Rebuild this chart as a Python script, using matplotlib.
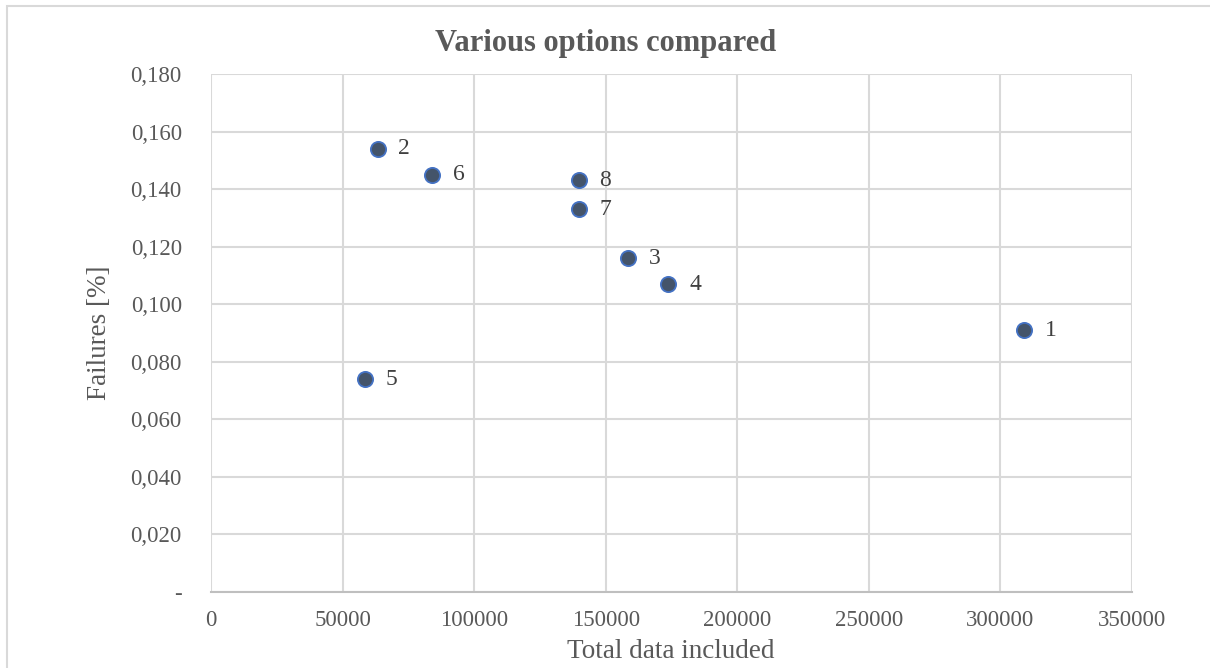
import matplotlib.pyplot as plt
from matplotlib.patches import Rectangle
from matplotlib.ticker import FixedLocator, FuncFormatter

# option number, total data included, failure rate
option_ids = ["1", "2", "3", "4", "5", "6", "7", "8"]
total_data = [309000, 63300, 158600, 173800, 58500, 83900, 139700, 139700]
failures = [0.091, 0.154, 0.116, 0.107, 0.074, 0.145, 0.133, 0.143]

x_ticks = [0, 50000, 100000, 150000, 200000, 250000, 300000, 350000]
y_ticks = [0.0, 0.02, 0.04, 0.06, 0.08, 0.10, 0.12, 0.14, 0.16, 0.18]

plt.rcParams['font.family'] = ['Liberation Serif', 'DejaVu Serif']

W, H = 1210, 668
fig = plt.figure(figsize=(W / 100, H / 100), dpi=100)

# light frame around the chart area (runs off the right and bottom edges)
fig.patches.append(Rectangle((7 / W, -0.05), 1.2, 1 - 6 / H + 0.05,
                             transform=fig.transFigure, fill=False,
                             edgecolor='#d9d9d9', linewidth=1.5))

ax = fig.add_axes([211 / W, (H - 592) / H, (1132 - 211) / W, (592 - 74) / H])

ax.scatter(total_data, failures, s=120, color='#44546a', edgecolors='#4472c4',
           linewidths=1.3, zorder=3)
for lbl, xv, yv in zip(option_ids, total_data, failures):
    ax.annotate(lbl, (xv, yv), xytext=(15, 0), textcoords='offset points',
                ha='left', va='center', fontsize=17, color='#404040')

ax.set_xlim(0, 350000)
ax.set_ylim(0, 0.18)
ax.xaxis.set_major_locator(FixedLocator(x_ticks))
ax.yaxis.set_major_locator(FixedLocator(y_ticks))
ax.yaxis.set_major_formatter(FuncFormatter(
    lambda v, p: '-' if abs(v) < 1e-9 else f"{v:.3f}".replace('.', ',')))
ax.xaxis.set_major_formatter(FuncFormatter(lambda v, p: f"{int(v)}"))

ax.grid(True, color='#d9d9d9', linewidth=1.5)
ax.set_axisbelow(True)
for side in ['top', 'right', 'left']:
    ax.spines[side].set_visible(False)
ax.spines['bottom'].set_color('#bfbfbf')
ax.spines['bottom'].set_linewidth(1.5)
ax.tick_params(length=0, labelsize=16.5, labelcolor='#595959')
ax.tick_params(axis='x', pad=13)
ax.tick_params(axis='y', pad=21)

fig.text(606 / W, 1 - 44 / H, "Various options compared", ha='center',
         va='center', fontsize=22, fontweight='bold', color='#595959')
fig.text(671 / W, 1 - 652 / H, "Total data included", ha='center',
         va='center', fontsize=19.5, color='#595959')
fig.text(99 / W, 1 - 333 / H, "Failures [%]", ha='center', va='center',
         rotation=90, fontsize=19.5, color='#595959')

fig.savefig("out.png", dpi=100)
